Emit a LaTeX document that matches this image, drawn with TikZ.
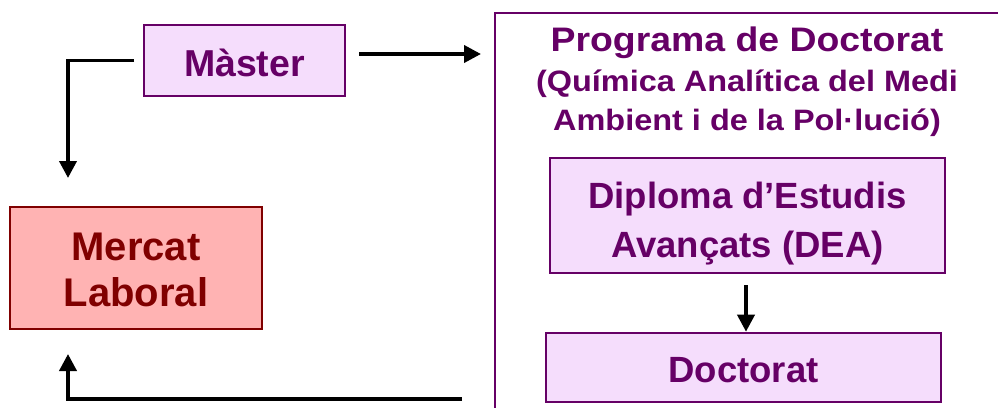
\documentclass[tikz,border=0pt]{standalone}
\usepackage{fontspec}
\setmainfont{Liberation Sans}
\newfontfamily\widesans{Liberation Sans}[FakeStretch=1.1]
\usetikzlibrary{arrows.meta}
\definecolor{plum}{HTML}{660066}
\definecolor{lav}{HTML}{F5DDFC}
\definecolor{rosefill}{HTML}{FFB3B3}
\definecolor{maroon}{HTML}{800000}
\begin{document}
\begin{tikzpicture}[x=1pt,y=-1pt,
  pbox/.style={draw=plum, fill=lav, line width=2pt, inner sep=0pt, text=plum},
  rbox/.style={draw=maroon, fill=rosefill, line width=2pt, inner sep=0pt, text=maroon},
  conn/.style={line width=3.8pt, -{Triangle[length=17pt,width=17pt]}}]
\useasboundingbox (0,0) rectangle (998,407);
\begin{scope}
  \clip (0,0) rectangle (998,407);
  \node[draw=plum, line width=2pt, minimum width=515pt, minimum height=420pt, inner sep=0pt] (prog) at (752.5,223) {};
\end{scope}
\node[anchor=base, inner sep=0pt, text=plum, font=\widesans\bfseries\fontsize{29.5}{39}\selectfont] (progtitle) at (747,51)
  {\begin{tabular}[t]{@{}c@{}}{\fontsize{34}{34}\selectfont Programa de Doctorat}\\[1.7pt](Química Analítica del Medi\\Ambient i de la Pol·lució)\end{tabular}};
\node[pbox, minimum width=201pt, minimum height=71pt, font=\bfseries\fontsize{37.5}{45}\selectfont, text height=32.4pt, text depth=0pt] (master) at (244.5,60.5) {Màster};
\node[rbox, minimum width=252pt, minimum height=122pt, font=\bfseries\fontsize{40}{46.7}\selectfont, text height=77.4pt, text depth=0pt] (mercat) at (136,268)
  {\begin{tabular}[b]{@{}c@{}}Mercat\\Laboral\end{tabular}};
\node[pbox, minimum width=395pt, minimum height=115pt, font=\bfseries\fontsize{36.5}{49}\selectfont, text height=83.6pt, text depth=0pt] (dea) at (747.5,215.5)
  {\begin{tabular}[b]{@{}c@{}}Diploma d’Estudis\\Avançats (DEA)\end{tabular}};
\node[pbox, minimum width=395pt, minimum height=69pt, font=\bfseries\fontsize{36.5}{44}\selectfont, text height=31pt, text depth=0pt] (doc) at (743.5,367.2) {Doctorat};
% connectors
\coordinate (m1) at ([xshift=-9pt]master.west);
\coordinate (m1e) at ([xshift=-68pt,yshift=28pt]mercat.north);
\draw[conn] (m1) -| (m1e);
\coordinate (a2s) at ([xshift=13pt,yshift=6.5pt]master.east);
\coordinate (a2t) at (a2s -| prog.west);
\draw[conn] (a2s) -- ([xshift=-13pt]a2t);
\coordinate (a3s) at ([xshift=-1.5pt,yshift=-11pt]dea.south);
\draw[conn] (a3s) -- (a3s |- doc.north);
\coordinate (b1) at ([xshift=-32pt]prog.west |- 0,399);
\coordinate (b1e) at ([xshift=-68pt,yshift=-24pt]mercat.south);
\draw[conn] (b1) -| (b1e);
\end{tikzpicture}
\end{document}
